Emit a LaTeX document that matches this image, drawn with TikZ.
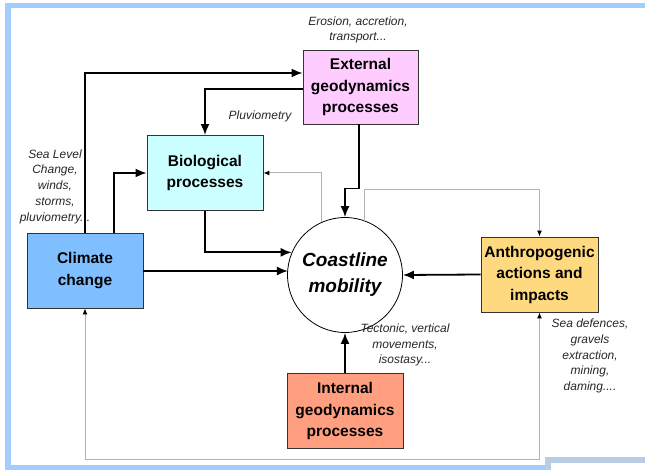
\documentclass[tikz,border=0pt]{standalone}
\usepackage{fontspec}
\setmainfont{Liberation Sans}
\usetikzlibrary{arrows.meta}
\definecolor{framecol}{HTML}{A3CDFF}
\definecolor{stepcol}{HTML}{B8CCE4}
\definecolor{extfill}{HTML}{FFCCFF}
\definecolor{biofill}{HTML}{CCFFFF}
\definecolor{climfill}{HTML}{80BFFF}
\definecolor{anthfill}{HTML}{FFD97F}
\definecolor{intfill}{HTML}{FF9F7F}

\begin{document}
\begin{tikzpicture}[x=1pt, y=-1pt,
    box/.style = {draw=black!80, line width=0.9pt, minimum width=116pt, minimum height=75pt, inner sep=0pt, align=center, font=\bfseries\fontsize{15.5}{21.5}\selectfont},
    note/.style = {align=center, inner sep=0pt, text=black!85, font=\itshape\fontsize{12}{15.8}\selectfont},
    flow/.style = {-{Latex[length=11pt,width=9pt]}, line width=1.8pt},
    back/.style = {>={Latex[length=6pt,width=5pt,color=black]}, draw=black!30, line width=1pt}]
    \useasboundingbox (0,0) rectangle (645,470);

    % frame
    \fill[framecol] (5,3) rectangle (645,8.5);
    \fill[framecol] (5,3) rectangle (10.5,470);
    \fill[framecol] (5,465) rectangle (550,470);
    \fill[stepcol] (545,457) rectangle (645,462.5);
    \fill[stepcol] (545,457) rectangle (550.5,470);

    \node[box, fill=extfill, minimum width=115pt, minimum height=74pt] (ext) at (360.5,87) {External\\geodynamics\\processes};
    \node[box, fill=biofill] (bio) at (205,173) {Biological\\processes};
    \node[box, fill=climfill] (clim) at (85,270.5) {Climate\\change};
    \node[draw, circle, line width=0.8pt, minimum size=115pt, inner sep=0pt, align=center,
          font=\bfseries\itshape\fontsize{19}{26}\selectfont] (coast) at (345,275) {Coastline\\mobility};
    \node[box, fill=anthfill, minimum width=117pt] (anth) at (539.5,274.5) {Anthropogenic\\actions and\\impacts};
    \node[box, fill=intfill] (intl) at (345,411) {Internal\\geodynamics\\processes};

    \node[note] (erosion) at (358,30) {Erosion, accretion,\\transport...};
    \node[note] (sealevel) at (55,186.5) {Sea Level\\Change,\\winds,\\storms,\\pluviometry...};
    \node[note] (pluvio) at (260,116) {Pluviometry};
    \node[note] (tecto) at (405,345) {Tectonic, vertical\\movements,\\isostasy...};
    \node[note] (seadef) at (590,356) {Sea defences,\\gravels\\extraction,\\mining,\\daming....};

    % feedback lines
    \draw[back, ->] (coast.114) |- (bio.east);
    \draw[back, ->] (coast.70) -- ++(0,-31) -| (anth.north);
    \draw[back, <->] (clim.south) -- ++(0,151) -| (anth.south);

    % main flows
    \draw[flow] (clim.north) |- ([yshift=14pt]ext.west);
    \draw[flow] ([yshift=-2pt]ext.west) -| (bio.north);
    \draw[flow] ([xshift=29pt]clim.north) |- (bio.west);
    \draw[flow] ([yshift=-0.5pt]clim.east) -- ++(144.5,0);
    \draw[flow] (bio.south) |- (coast.157.5);
    \draw[flow] ([xshift=-1.5pt]ext.south) -- ++(0,64) -| (coast.north);
    \draw[flow] (anth.west) -- (coast.east);
    \draw[flow] (intl.north) -- (coast.south);
\end{tikzpicture}
\end{document}
